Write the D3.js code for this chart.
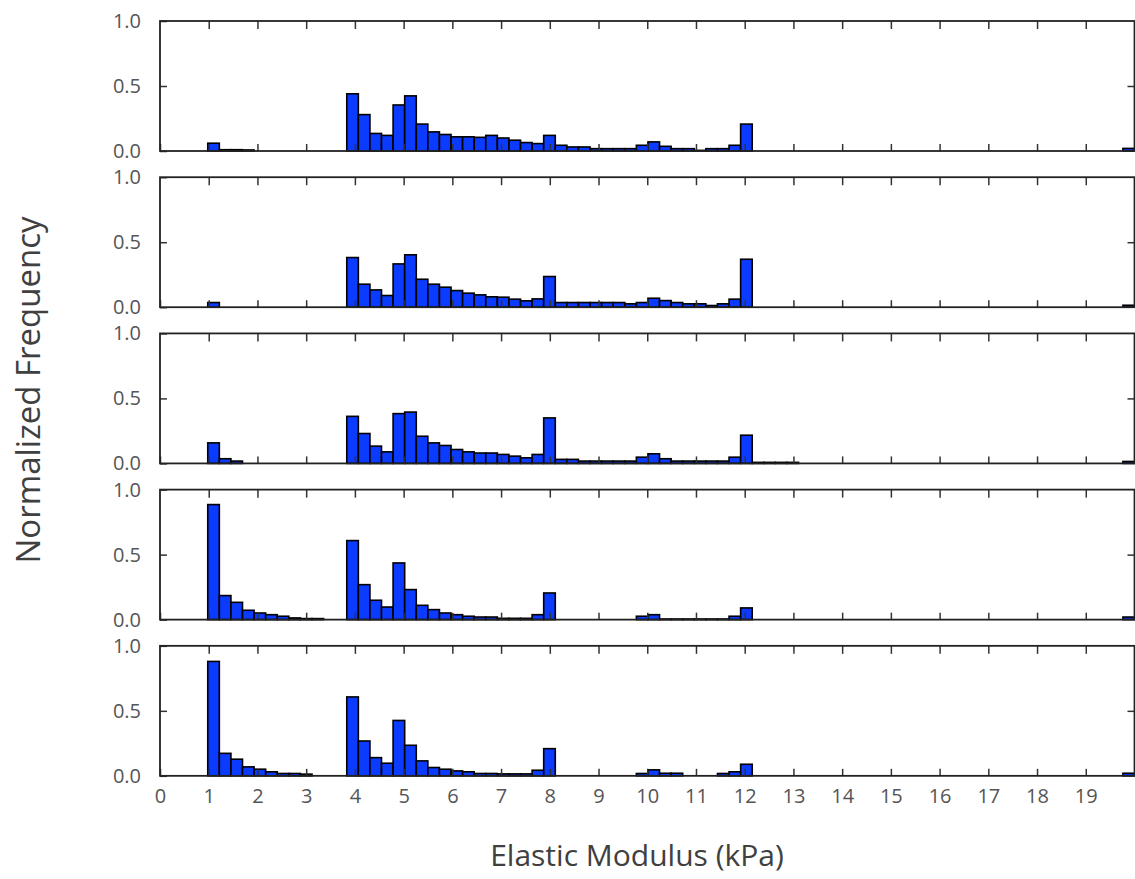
<!DOCTYPE html>
<html>
<head>
<meta charset="utf-8">
<script src="https://cdn.jsdelivr.net/npm/d3@7"></script>
<style>
  body { margin: 0; background: #fff; }
  text { font-family: "Open Sans", "Noto Sans", sans-serif; }
</style>
</head>
<body>
<div class="chart"></div>
<script>
// histogram bins: 80 bins from 0.98 to 20 kPa
var binStart = 0.98;
var binWidth = 0.23775;

var panel1 = [0.06,0.01,0.01,0.008,0,0,0,0,0,0,
  0,0,0.44,0.28,0.135,0.12,0.354,0.424,0.207,0.147,
  0.127,0.109,0.109,0.105,0.12,0.10,0.083,0.065,0.057,0.12,
  0.044,0.031,0.031,0.018,0.018,0.018,0.018,0.044,0.07,0.036,
  0.018,0.018,0.005,0.018,0.018,0.044,0.207,0,0,0,
  0,0,0,0,0,0,0,0,0,0,
  0,0,0,0,0,0,0,0,0,0,
  0,0,0,0,0,0,0,0,0,0.02];

var panel2 = [0.036,0,0,0,0,0,0,0,0,0,
  0,0,0.382,0.177,0.133,0.09,0.333,0.403,0.215,0.177,
  0.154,0.128,0.108,0.095,0.08,0.077,0.062,0.049,0.064,0.236,
  0.036,0.036,0.036,0.036,0.036,0.036,0.026,0.036,0.069,0.051,
  0.036,0.026,0.026,0.013,0.026,0.062,0.369,0,0,0,
  0,0,0,0,0,0,0,0,0,0,
  0,0,0,0,0,0,0,0,0,0,
  0,0,0,0,0,0,0,0,0,0.015];

var panel3 = [0.158,0.036,0.018,0,0,0,0,0,0,0,
  0,0,0.362,0.23,0.133,0.089,0.383,0.395,0.209,0.158,
  0.138,0.107,0.089,0.08,0.08,0.069,0.056,0.043,0.069,0.35,
  0.031,0.031,0.018,0.018,0.018,0.018,0.018,0.048,0.074,0.036,
  0.018,0.018,0.018,0.018,0.018,0.048,0.217,0.008,0.008,0.008,
  0.008,0,0,0,0,0,0,0,0,0,
  0,0,0,0,0,0,0,0,0,0,
  0,0,0,0,0,0,0,0,0,0.015];

var panel4 = [0.885,0.185,0.133,0.072,0.051,0.038,0.026,0.013,0.008,0.008,
  0,0,0.608,0.269,0.149,0.097,0.436,0.231,0.11,0.077,
  0.051,0.038,0.026,0.02,0.02,0.01,0.01,0.01,0.038,0.205,
  0,0,0,0,0,0,0,0.026,0.038,0.005,
  0.005,0.005,0.005,0.005,0.005,0.026,0.09,0,0,0,
  0,0,0,0,0,0,0,0,0,0,
  0,0,0,0,0,0,0,0,0,0,
  0,0,0,0,0,0,0,0,0,0.02];

var panel5 = [0.88,0.173,0.128,0.069,0.051,0.031,0.018,0.018,0.013,0,
  0,0,0.607,0.268,0.14,0.097,0.426,0.235,0.115,0.064,
  0.051,0.038,0.031,0.018,0.018,0.015,0.015,0.015,0.043,0.209,
  0,0,0,0,0,0,0,0.018,0.046,0.02,
  0.02,0,0,0,0.018,0.031,0.089,0,0,0,
  0,0,0,0,0,0,0,0,0,0,
  0,0,0,0,0,0,0,0,0,0,
  0,0,0,0,0,0,0,0,0,0.02];

var panels = [panel1, panel2, panel3, panel4, panel5];
var xTicks = d3.range(0, 20);
var yTicks = [0, 0.5, 1];

function chart() {
    var width = 1135, height = 879;
    var panelHeight = 130;

    var x = d3.scaleLinear()
                .domain([0, 20])
                .range([160, 1134.5]);

    var band = d3.scaleBand()
                .domain(d3.range(panels.length))
                .range([21, 775.8])
                .paddingInner(0.168);

    var svg = d3.select(".chart").append("svg")
            .attr("width", width)
            .attr("height", height);

    panels.forEach(function (values, i) {
        var top = band(i);
        var y = d3.scaleLinear()
                .domain([0, 1])
                .range([top + panelHeight, top]);

        var g = svg.append("g");

        // bars
        g.selectAll("rect.bar")
            .data(values)
            .enter().append("rect")
            .attr("class", "bar")
            .attr("x", function (d, j) { return x(binStart + j * binWidth); })
            .attr("width", function (d, j) { return x(binStart + (j + 1) * binWidth) - x(binStart + j * binWidth); })
            .attr("y", function (d) { return y(d); })
            .attr("height", function (d) { return y(0) - y(d); })
            .attr("fill", "#0b3bff")
            .attr("stroke", "#000")
            .attr("stroke-width", 1.6);

        // bottom ticks (inside)
        var xb = d3.axisBottom(x)
                .tickValues(xTicks)
                .tickSize(-7)
                .tickPadding(13)
                .tickFormat(i === panels.length - 1 ? d3.format("d") : "");
        var gb = g.append("g")
                .attr("transform", "translate(0," + y(0) + ")")
                .call(xb);

        // top ticks (inside)
        var gt = g.append("g")
                .attr("transform", "translate(0," + y(1) + ")")
                .call(d3.axisTop(x).tickValues(xTicks.slice(1)).tickSize(-8).tickFormat(""));

        // left axis
        var gl = g.append("g")
                .attr("transform", "translate(" + x(0) + ",0)")
                .call(d3.axisLeft(y).tickValues(yTicks).tickSize(-7).tickPadding(19).tickFormat(d3.format(".1f")));

        // right axis
        var gr = g.append("g")
                .attr("transform", "translate(" + x(20) + ",0)")
                .call(d3.axisRight(y).tickValues([0.5]).tickSize(-7).tickFormat(""));

        [gb, gt, gl, gr].forEach(function (a) {
            a.select(".domain").remove();
            a.selectAll("line").attr("stroke", "#333").attr("stroke-width", 1.5);
            a.selectAll("text")
                .attr("fill", "#555")
                .style("font-size", "20px")
                .style("font-family", "'Open Sans', sans-serif");
        });

        // frame
        g.append("rect")
            .attr("x", x(0))
            .attr("y", y(1))
            .attr("width", x(20) - x(0))
            .attr("height", y(0) - y(1))
            .attr("fill", "none")
            .attr("stroke", "#222")
            .attr("stroke-width", 1.8);
    });

    svg.append("text")
        .attr("transform", "translate(40,390) rotate(-90)")
        .attr("text-anchor", "middle")
        .attr("fill", "#404040")
        .style("font-size", "33px")
        .text("Normalized Frequency");

    svg.append("text")
        .attr("x", 637)
        .attr("y", 866)
        .attr("text-anchor", "middle")
        .attr("fill", "#404040")
        .style("font-size", "30px")
        .text("Elastic Modulus (kPa)");
}

chart();
</script>
</body>
</html>
